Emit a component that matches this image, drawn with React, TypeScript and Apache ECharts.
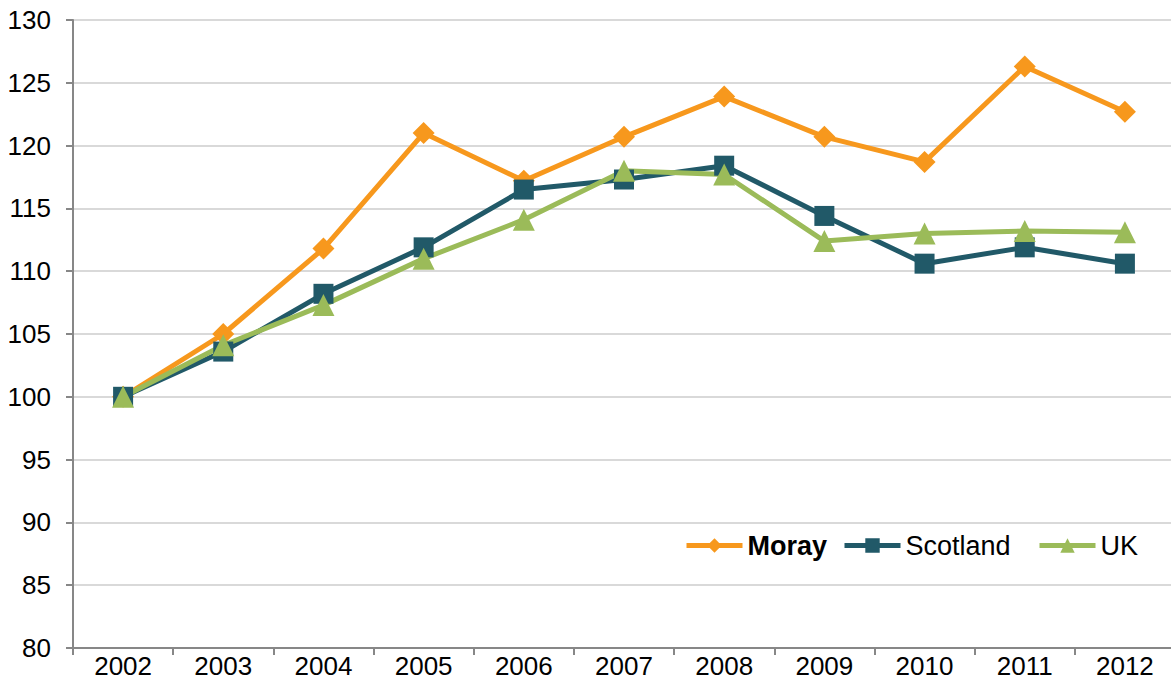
import React, { useEffect, useRef } from "react";
import * as echarts from "echarts";

const years = ["2002", "2003", "2004", "2005", "2006", "2007", "2008", "2009", "2010", "2011", "2012"];
const moray = [100, 105.0, 111.8, 121.0, 117.2, 120.7, 123.9, 120.7, 118.7, 126.3, 122.7];
const scotland = [100, 103.6, 108.2, 111.9, 116.5, 117.3, 118.4, 114.4, 110.6, 111.9, 110.6];
const uk = [100, 104.1, 107.3, 111.0, 114.1, 118.0, 117.7, 112.4, 113.0, 113.2, 113.1];
const seriesNames = ["Moray", "Scotland", "UK"];

const FONT = "'Liberation Sans', Arial, sans-serif";

export default function App() {
  const ref = useRef<HTMLDivElement>(null);
  useEffect(() => {
    if (!ref.current) return;
    const chart = echarts.init(ref.current, null, { renderer: "svg" });
    const mk = (name: string, data: number[], color: string, symbol: string, size: number) => ({
      name,
      type: "line",
      data,
      symbol,
      symbolSize: size,
      showAllSymbol: true,
      lineStyle: { color, width: 5 },
      itemStyle: { color },
      emphasis: { disabled: true },
    });
    const legendLefts = [684, 842, 1037];
    const legends = seriesNames.map((n, i) => ({
      left: legendLefts[i],
      top: 532,
      padding: 0,
      itemWidth: 56,
      itemHeight: 18,
      lineStyle: { width: 5 },
      textStyle: {
        fontSize: 27,
        color: "#000",
        fontFamily: FONT,
        fontWeight: i === 0 ? "bold" : "normal",
        padding: [0, 0, 0, 0],
      },
      data: [n],
    }));
    chart.setOption({
      animation: false,
      textStyle: { fontFamily: FONT },
      grid: { left: 73, top: 20, bottom: 45, right: 1 },
      legend: legends,
      xAxis: {
        type: "category",
        data: years,
        boundaryGap: true,
        axisLine: { lineStyle: { color: "#878787", width: 2 } },
        axisTick: { show: true, length: 7, alignWithLabel: false, lineStyle: { color: "#878787", width: 2 } },
        axisLabel: { fontSize: 26, color: "#000", margin: 5, fontFamily: FONT },
        splitLine: { show: false },
      },
      yAxis: {
        type: "value",
        min: 80,
        max: 130,
        interval: 5,
        axisLine: { show: true, lineStyle: { color: "#878787", width: 2 } },
        axisTick: { show: true, length: 7, lineStyle: { color: "#878787", width: 2 } },
        axisLabel: { fontSize: 26, color: "#000", margin: 22, fontFamily: FONT },
        splitLine: { show: true, lineStyle: { color: "#D9D9D9", width: 2 } },
      },
      series: [
        mk(seriesNames[0], moray, "#F7981D", "diamond", 22),
        mk(seriesNames[1], scotland, "#215968", "rect", 20),
        mk(seriesNames[2], uk, "#9BBB59", "triangle", 22),
      ],
    });
    return () => chart.dispose();
  }, []);
  return (
    <div style={{ position: "fixed", left: 0, top: 0, width: 1171, height: 693, overflow: "hidden", background: "#fff" }}>
      <div ref={ref} style={{ width: 1176, height: 693 }} />
    </div>
  );
}
